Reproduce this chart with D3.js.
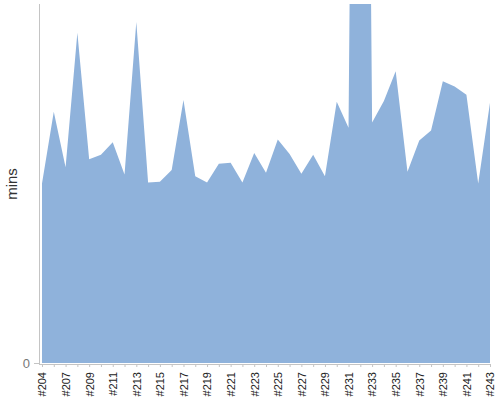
<!DOCTYPE html>
<html>
<head>
<meta charset="utf-8">
<script src="https://cdn.jsdelivr.net/npm/d3@7"></script>
<style>
  body { margin: 0; background: #fff; }
  svg { display: block; font-family: "Liberation Sans", Arial, sans-serif; }
  .axis path, .axis line { stroke: #c4c4c4; }
  .x-axis text { fill: #222; font-size: 11px; }
  .y-axis text { fill: #777; font-size: 13px; }
</style>
</head>
<body>
<svg id="chart" width="500" height="400"></svg>
<script>
/* ── data ─────────────────────────────────────────────────────────────────── */

const builds = [
  "#204", "#205", "#207", "#208", "#209", "#210", "#211", "#212", "#213", "#214",
  "#215", "#216", "#217", "#218", "#219", "#220", "#221", "#222", "#223", "#224",
  "#225", "#226", "#227", "#228", "#229", "#230", "#231", "#232", "#233", "#234",
  "#235", "#236", "#237", "#238", "#239", "#240", "#241", "#242", "#243",
];

const durations = [
  10.0, 14.0, 10.9, 18.4, 11.35, 11.6, 12.3, 10.5, 19.0, 10.05,
  10.1, 10.75, 14.65, 10.4, 10.05, 11.1, 11.15, 10.05, 11.7, 10.6,
  12.45, 11.65, 10.55, 11.6, 10.4, 14.55, 13.1, 90.0, 13.4, 14.6,
  16.25, 10.65, 12.4, 12.95, 15.7, 15.4, 14.95, 10.0, 14.5,
];

const yMax = 20;
const yTicks = [0];
const yLabel = "mins";

/* ── chart ────────────────────────────────────────────────────────────────── */

const svg = d3.select("#chart");
const plot = { left: 42, right: 490, top: 4, bottom: 363 };

const x = d3.scalePoint().domain(builds).range([plot.left, plot.right]);
const y = d3.scaleLinear().domain([0, yMax]).range([plot.bottom, plot.top]);

svg
  .append("clipPath")
  .attr("id", "clip")
  .append("rect")
  .attr("x", plot.left)
  .attr("y", plot.top)
  .attr("width", plot.right - plot.left + 1)
  .attr("height", plot.bottom - plot.top);

const area = d3
  .area()
  .x((d, i) => x(builds[i]))
  .y0(y(0))
  .y1((d) => y(d));

svg
  .append("path")
  .datum(durations)
  .attr("clip-path", "url(#clip)")
  .attr("fill", "#8fb2db")
  .attr("d", area);

// Y axis, only the zero tick is labelled
const yAxis = svg
  .append("g")
  .attr("class", "axis y-axis")
  .attr("transform", "translate(39,0)")
  .call(d3.axisLeft(y).tickValues(yTicks).tickSize(5).tickSizeOuter(0));
yAxis.select(".domain").attr("d", `M0.5,${plot.top}V${plot.bottom + 1}`);
yAxis.selectAll("text").attr("x", -9);

// X axis, every second build labelled
const xAxis = svg
  .append("g")
  .attr("class", "axis x-axis")
  .attr("transform", "translate(0,364)")
  .call(
    d3
      .axisBottom(x)
      .tickSize(3)
      .tickSizeOuter(0)
      .tickFormat((d, i) => (i % 2 === 0 ? d : "")),
  );
xAxis.select(".domain").attr("d", `M39,0.5H${plot.right + 1}`);
xAxis
  .selectAll("text")
  .attr("transform", "rotate(-90)")
  .attr("text-anchor", "end")
  .attr("x", -8)
  .attr("y", 0)
  .attr("dy", "0.35em");

svg
  .append("text")
  .attr("transform", "rotate(-90)")
  .attr("x", -184)
  .attr("y", 17)
  .attr("text-anchor", "middle")
  .attr("font-size", "15px")
  .attr("fill", "#333")
  .text(yLabel);
</script>
</body>
</html>
